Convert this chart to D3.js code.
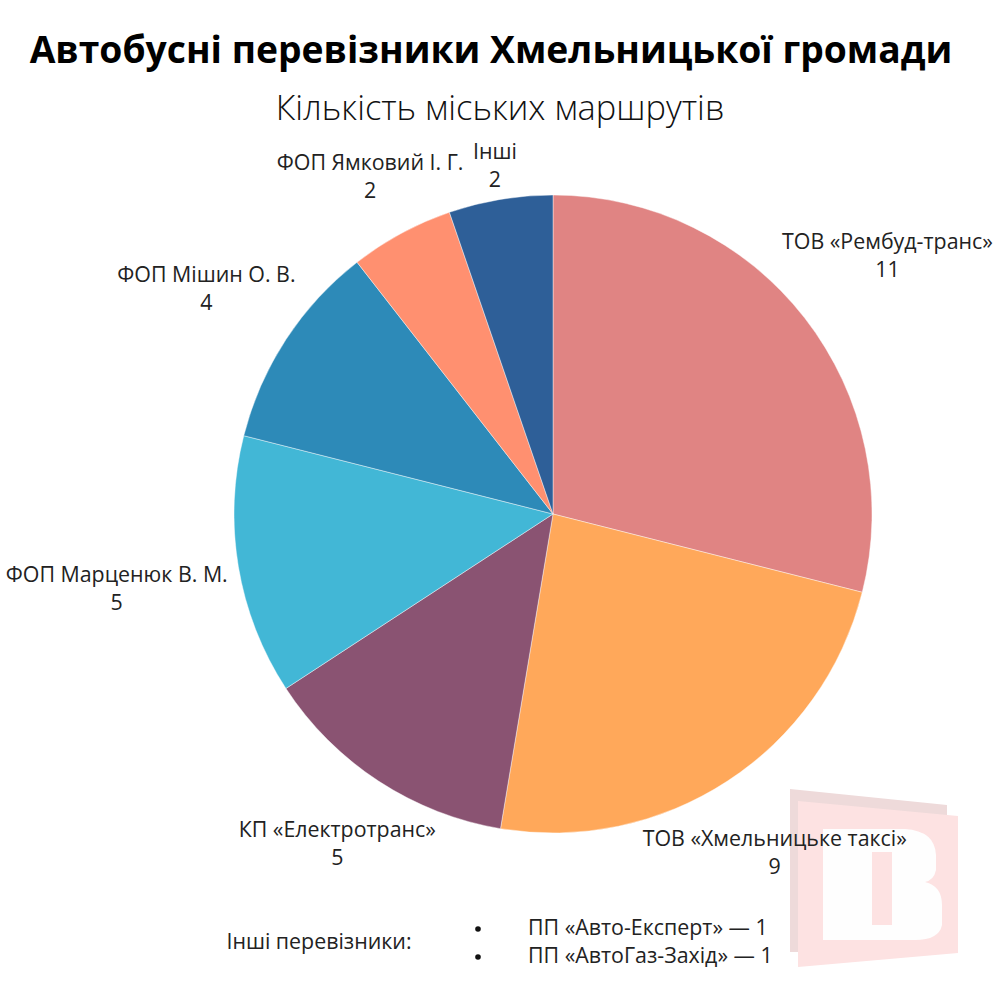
<!DOCTYPE html>
<html><head><meta charset="utf-8">
<script src="https://cdn.jsdelivr.net/npm/d3@7/dist/d3.min.js"></script>
<style>body{margin:0;background:#fff}svg{display:block}</style>
</head><body>
<svg id="c" width="1000" height="1000"></svg>
<script>
const titleText = "Автобусні перевізники Хмельницької громади";
const subtitleText = "Кількість міських маршрутів";
const categories = ["ТОВ «Рембуд-транс»","ТОВ «Хмельницьке таксі»","КП «Електротранс»","ФОП Марценюк В. М.","ФОП Мішин О. В.","ФОП Ямковий І. Г.","Інші"];
const values = [11, 9, 5, 5, 4, 2, 2];
const colors = ["#e08483","#ffa85a","#8a5372","#42b7d6","#2d8ab8","#ff9070","#2e5f98"];
const otherLabel = "Інші перевізники:";
const otherItems = ["ПП «Авто-Експерт» — 1","ПП «АвтоГаз-Захід» — 1"];

const FONT = "'Open Sans', 'Noto Sans', sans-serif";
const svg = d3.select("#c");

function fitSize(text, weight, base, target){
  const t = svg.append("text").attr("font-family",FONT).attr("font-weight",weight).attr("font-size",base).text(text);
  const w = t.node().getComputedTextLength(); t.remove();
  return base*target/w;
}

// watermark
const wm = svg.append("g");
wm.append("path").attr("d","M790,789 L947,805 L947,952 L790,952 Z").attr("fill","#eedada");
wm.append("path").attr("d","M798,801 L958,816 L958,953 L798,967 Z").attr("fill","#fde2e2");
wm.append("path").attr("fill-rule","evenodd").attr("fill","#fefefe")
  .attr("d","M823,829 L905,829 Q935,831 936,855 L936,870 Q934,880 925,882 Q942,886 942,905 L942,925 Q939,940 915,940 L823,940 Z M872,852 L892,852 L892,925 L872,925 Z");

// title
const tSize = fitSize(titleText, 700, 34, 923);
svg.append("text").attr("x",491).attr("y",53).attr("text-anchor","middle").attr("dominant-baseline","middle")
  .attr("font-family",FONT).attr("font-weight",700).attr("font-size",tSize).attr("fill","#000").text(titleText);
const sSize = fitSize(subtitleText, 300, 28, 449);
svg.append("text").attr("x",500).attr("y",111).attr("text-anchor","middle").attr("dominant-baseline","middle")
  .attr("font-family",FONT).attr("font-weight",300).attr("font-size",sSize).attr("fill","#111").text(subtitleText);

// pie
const cx = 553, cy = 514, R = 319;
const pie = d3.pie().sort(null).value(d=>d)(values);
const arc = d3.arc().innerRadius(0).outerRadius(R);
const g = svg.append("g").attr("transform",`translate(${cx},${cy})`);
g.selectAll("path").data(pie).join("path").attr("d",arc)
  .attr("fill",(d,i)=>colors[i]).attr("stroke","#fff").attr("stroke-width",0.6).attr("stroke-opacity",0.7);

// labels
const lSize = fitSize(categories[0], 400, 18, 211);
const labelArc = d3.arc().innerRadius(420).outerRadius(420);
const nudge = [[3,0],[-8,-12],[14,-21],[-22,6],[5,5],[17,33],[11,67]];
const lg = g.selectAll("g.lab").data(pie).join("g").attr("class","lab")
  .attr("transform",(d,i)=>{ const [x,y] = labelArc.centroid(d); return `translate(${x+nudge[i][0]},${y+nudge[i][1]})`; });
lg.append("text").attr("text-anchor","middle").attr("dominant-baseline","middle").attr("y",-13)
  .attr("font-family",FONT).attr("font-size",lSize).attr("fill","#222").text((d,i)=>categories[i]);
lg.append("text").attr("text-anchor","middle").attr("dominant-baseline","middle").attr("y",15)
  .attr("font-family",FONT).attr("font-size",lSize).attr("fill","#222").text(d=>d.data);

// others note
svg.append("text").attr("x",319).attr("y",943).attr("text-anchor","middle").attr("dominant-baseline","middle")
  .attr("font-family",FONT).attr("font-size",lSize).attr("fill","#222").text(otherLabel);
otherItems.forEach((s,i)=>{
  const y = 929 + i*28;
  svg.append("circle").attr("cx",478).attr("cy",y).attr("r",2.8).attr("fill","#111");
  svg.append("text").attr("x",528).attr("y",y).attr("dominant-baseline","middle")
    .attr("font-family",FONT).attr("font-size",lSize).attr("fill","#222").text(s);
});
</script>
</body></html>
